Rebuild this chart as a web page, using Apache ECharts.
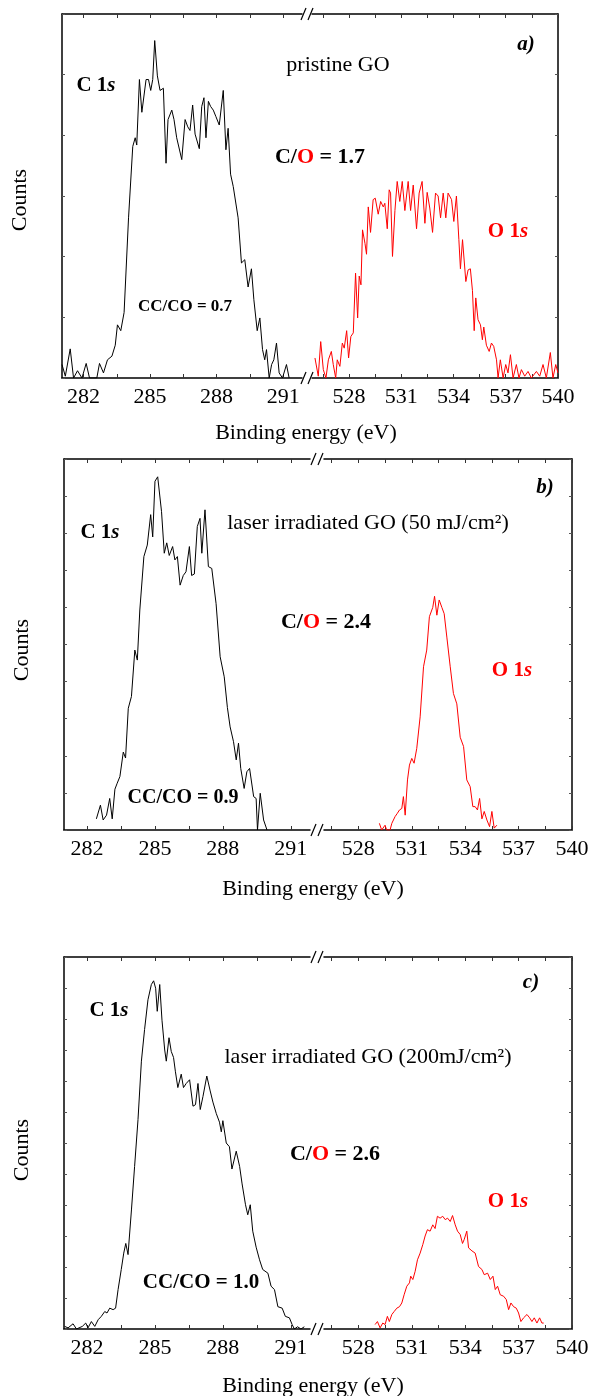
<!DOCTYPE html>
<html>
<head>
<meta charset="utf-8">
<script src="https://cdn.jsdelivr.net/npm/echarts@6/dist/echarts.min.js"></script>
<style>
	body{margin:0;background:#fff;}
	#chart{width:592px;height:1396px;}
</style>
</head>
<body>
<div id="chart"></div>
<script>
// tick positions of the broken x axis (binding energy, eV)
const lowTicks = [282, 283.5, 285, 286.5, 288, 289.5, 291];
const lowLabels = [282, 285, 288, 291];
const highTicks = [526.5, 528, 529.5, 531, 532.5, 534, 535.5, 537, 538.5, 540];
const highLabels = [528, 531, 534, 537, 540];

// a) pristine GO  [energy, counts (a.u.)]
const aC1s = [[281.03,3.7],[281.18,0.5],[281.40,8],[281.55,0],[281.73,2],[281.93,0],[282.12,4],[282.27,0],[282.60,0],[282.72,4],[282.90,1.4],[283.08,5],[283.28,6],[283.43,9],[283.53,14.6],[283.68,13],[283.83,18],[284.03,44],[284.22,63.6],[284.33,66],[284.40,64],[284.52,82],[284.63,73],[284.82,82],[284.93,82],[285.03,79],[285.12,82],[285.21,92.7],[285.33,83],[285.45,79],[285.60,79.6],[285.72,59],[285.81,71],[285.98,73.6],[286.08,71],[286.20,66],[286.43,60],[286.58,71],[286.70,69],[286.80,68],[286.92,75],[287.03,67],[287.22,63],[287.33,74.6],[287.43,77],[287.52,66],[287.63,76],[287.73,74.6],[287.85,73.6],[287.97,71.8],[288.12,69.5],[288.18,70],[288.30,79],[288.42,62.7],[288.52,68.6],[288.63,56],[288.75,52.6],[288.97,44],[289.12,31.6],[289.27,32.5],[289.42,25],[289.57,30],[289.68,21.5],[289.83,13],[289.95,16.5],[290.07,7.8],[290.17,5],[290.25,7.8],[290.37,0],[290.48,3.7],[290.58,5],[290.70,9.6],[290.82,1.4],[290.97,0],[291.15,3.7],[291.27,0]];
const aO1s = [[526.05,5.5],[526.24,0.5],[526.38,10],[526.53,2.3],[526.68,0],[526.82,5],[526.99,7.3],[527.10,3.7],[527.24,0],[527.33,5],[527.48,3.2],[527.62,9.6],[527.73,8.2],[527.87,13],[527.98,5.5],[528.11,11.4],[528.25,12.4],[528.38,28.8],[528.50,16.5],[528.59,28],[528.69,25.6],[528.78,40.7],[528.92,37],[529.01,34],[529.11,47],[529.24,40],[529.39,49],[529.51,49.4],[529.68,45],[529.82,48.5],[529.97,47],[530.06,48],[530.20,41],[530.31,51.7],[530.39,50.8],[530.50,33.4],[530.64,46],[530.77,54],[530.92,48.5],[531.06,54],[531.21,46],[531.40,54],[531.54,46],[531.69,53],[531.88,41],[532.03,50.8],[532.20,54],[532.36,42.5],[532.49,51],[532.64,46.7],[532.80,40],[532.97,50.8],[533.12,50],[533.26,44],[533.41,50.8],[533.56,44],[533.69,50.8],[533.89,49],[534.02,43],[534.17,50],[534.31,38],[534.40,30],[534.52,38],[534.71,26.5],[534.84,29.7],[534.97,30],[535.09,24],[535.19,13],[535.28,22],[535.41,16],[535.55,14.6],[535.66,10.5],[535.74,14],[535.89,9],[536.05,7.3],[536.18,9.6],[536.31,8.7],[536.47,5],[536.56,0],[536.69,5],[536.85,0],[537.00,3.7],[537.13,1.4],[537.27,6.4],[537.42,0],[537.61,3.7],[537.76,0],[537.90,2.3],[538.09,0.5],[538.28,1.8],[538.47,0],[538.76,1.8],[538.95,0.5],[539.14,3.7],[539.33,0],[539.56,7],[539.71,0],[539.87,3.7],[540.00,1.4]];

// b) laser irradiated GO, 50 mJ/cm2
const bC1s = [[282.41,3],[282.59,6.7],[282.71,2.7],[282.86,4],[283.00,8.5],[283.11,3],[283.23,11],[283.33,12.6],[283.45,14.4],[283.60,21],[283.70,19.4],[283.82,32.8],[283.96,36],[284.11,48.5],[284.22,45.8],[284.33,59.3],[284.51,73.7],[284.66,76.8],[284.81,85],[284.90,79],[285.00,94],[285.12,95.2],[285.29,85.8],[285.41,74.6],[285.52,77.4],[285.63,74],[285.78,76.4],[285.88,72.8],[285.99,73.7],[286.11,66],[286.25,68.6],[286.37,69.6],[286.52,76.4],[286.62,68.6],[286.74,69],[286.87,81.8],[286.99,84],[287.07,74.6],[287.21,86.3],[287.36,71],[287.51,70.5],[287.70,61],[287.88,46.7],[288.06,41.3],[288.20,33],[288.32,27.8],[288.47,23.8],[288.59,18.9],[288.69,23.4],[288.79,16.6],[288.94,11.2],[289.06,15.7],[289.18,16.6],[289.36,9],[289.47,8.5],[289.53,0],[289.65,9.9],[289.80,2.7],[289.95,0]];
const bO1s = [[529.18,1.8],[529.31,0],[529.50,1.3],[529.59,0],[529.78,0],[529.88,1.8],[530.06,3.6],[530.19,4.5],[530.31,5.4],[530.44,5.8],[530.53,9],[530.63,4],[530.76,13.5],[530.87,17.5],[531.00,19.3],[531.13,18],[531.28,22],[531.47,30.5],[531.66,44],[531.84,48.5],[531.99,57.5],[532.07,57],[532.18,60],[532.28,63],[532.41,57.9],[532.54,62],[532.69,60],[532.82,58.3],[532.97,52],[533.16,44],[533.34,36.8],[533.53,34],[533.72,25],[533.91,22.5],[534.09,13.5],[534.28,11.7],[534.43,6.3],[534.56,6.3],[534.69,5.4],[534.81,8.5],[534.94,3],[535.07,5],[535.22,2.7],[535.37,0.9],[535.50,5],[535.63,0.5],[535.78,1.3]];

// c) laser irradiated GO, 200 mJ/cm2
const cC1s = [[281.01,0.7],[281.16,0.3],[281.38,1.4],[281.53,0],[281.79,0.7],[281.94,1.6],[282.04,0.3],[282.19,2],[282.34,0.7],[282.49,2.5],[282.63,3.4],[282.78,4.7],[282.88,4.3],[283.00,5.6],[283.15,5.2],[283.26,5.6],[283.37,10.6],[283.51,16],[283.62,20.4],[283.71,23],[283.81,20],[283.96,32],[284.10,43.7],[284.25,56.3],[284.40,72],[284.54,80.5],[284.69,88.5],[284.84,92.6],[284.94,93.6],[285.03,91.6],[285.10,85.4],[285.21,92.6],[285.31,83],[285.43,75],[285.50,72],[285.62,78.3],[285.72,74.6],[285.82,73],[285.90,69.3],[286.01,64.9],[286.16,68.5],[286.26,64.9],[286.38,66],[286.53,67],[286.68,59.9],[286.79,60.3],[286.90,66],[287.00,59],[287.12,62.5],[287.29,68],[287.44,64],[287.56,61],[287.71,57.9],[287.85,55.6],[287.93,53],[288.00,56],[288.15,50],[288.29,49],[288.40,43],[288.59,47.8],[288.74,43.7],[288.85,39],[289.00,33.4],[289.10,30.7],[289.21,33.4],[289.32,26.3],[289.47,22],[289.62,18.6],[289.76,16],[289.99,15],[290.13,11.5],[290.28,10.6],[290.43,6],[290.62,5.6],[290.76,3.4],[290.94,3],[291.06,1.2],[291.16,0],[291.30,0.6],[291.45,0],[291.60,0.6]];
const cO1s = [[528.94,1.2],[529.07,2],[529.22,0.3],[529.37,1.6],[529.50,1.2],[529.63,3.4],[529.74,2],[529.88,3.9],[530.01,4.7],[530.16,5.6],[530.31,6],[530.44,7],[530.57,9.2],[530.72,11.5],[530.87,12.4],[530.94,14.2],[531.06,13.3],[531.19,15.5],[531.32,18.6],[531.47,20.4],[531.62,22.7],[531.75,25],[531.88,26.7],[532.03,26.3],[532.18,28],[532.31,27],[532.44,30.3],[532.59,29.8],[532.74,30.3],[532.88,29.4],[533.01,29.8],[533.16,28.9],[533.29,30.5],[533.44,28],[533.57,26.3],[533.72,25.4],[533.85,23],[533.94,24],[534.09,26.3],[534.19,21.8],[534.38,21],[534.56,20.4],[534.75,16.8],[534.94,16],[535.07,14.6],[535.26,15],[535.41,13.3],[535.56,14.2],[535.69,10.6],[535.82,11.5],[535.97,9.2],[536.16,8.8],[536.31,7.9],[536.44,5.2],[536.57,7],[536.72,6],[536.87,5.6],[537.00,4.3],[537.13,2],[537.28,3],[537.47,3.9],[537.62,3],[537.75,2],[537.88,3],[538.03,1.6],[538.18,3],[538.31,1.6],[538.41,1.6]];

const FONT = '"Liberation Serif", "Times New Roman", serif';

// panel frames (px) and axis ranges
const panels = [
	{top:14, bottom:378, left:62, right:558, gapL:302, gapR:312, lMin:281.03, lMax:291.85, rMin:525.88, rMax:540, ySplit:6, c1s:aC1s, o1s:aO1s},
	{top:459, bottom:830, left:64, right:572, gapL:310, gapR:324, lMin:280.98, lMax:291.85, rMin:526.07, rMax:540, ySplit:10, c1s:bC1s, o1s:bO1s},
	{top:957, bottom:1329, left:64, right:572, gapL:310, gapR:324, lMin:280.98, lMax:291.85, rMin:526.07, rMax:540, ySplit:12, c1s:cC1s, o1s:cO1s}
];

var grids = [], xAxes = [], yAxes = [], series = [], graphics = [];

function xAxisOf(gi, min, max, ticks, labels, pos){
	return {
		type:'value', gridIndex:gi, min:min, max:max, position:pos,
		axisLine:{show:true, onZero:false, lineStyle:{color:'#000', width:1.5}},
		axisTick:{show:true, inside:true, length:4, customValues:ticks, lineStyle:{color:'#333', width:1}},
		axisLabel:{show:pos == 'bottom', customValues:labels, margin:8, color:'#000', fontSize:22, fontFamily:FONT},
		splitLine:{show:false}
	};
}
function yAxisOf(gi, n, pos){
	return {
		type:'value', gridIndex:gi, min:0, max:100, interval:100 / n, position:pos,
		axisLine:{show:true, onZero:false, lineStyle:{color:'#000', width:1.5}},
		axisTick:{show:true, inside:true, length:3, lineStyle:{color:'#555', width:1}},
		axisLabel:{show:false},
		splitLine:{show:false}
	};
}

panels.forEach((p, i) => {
	var gl = i * 2, gr = i * 2 + 1;
	var h = p.bottom - p.top;
	grids.push({left:p.left, top:p.top, width:p.gapL - p.left, height:h});
	grids.push({left:p.gapR, top:p.top, width:p.right - p.gapR, height:h});
	// bottom + top axes for each half
	xAxes.push(xAxisOf(gl, p.lMin, p.lMax, lowTicks, lowLabels, 'bottom'));
	xAxes.push(xAxisOf(gl, p.lMin, p.lMax, lowTicks, lowLabels, 'top'));
	xAxes.push(xAxisOf(gr, p.rMin, p.rMax, highTicks, highLabels, 'bottom'));
	xAxes.push(xAxisOf(gr, p.rMin, p.rMax, highTicks, highLabels, 'top'));
	yAxes.push(yAxisOf(gl, p.ySplit, 'left'));
	yAxes.push(yAxisOf(gr, p.ySplit, 'right'));
	series.push({type:'line', xAxisIndex:i * 4, yAxisIndex:gl, data:p.c1s, showSymbol:false, clip:true,
		lineStyle:{color:'#000', width:1}});
	series.push({type:'line', xAxisIndex:i * 4 + 2, yAxisIndex:gr, data:p.o1s, showSymbol:false, clip:true,
		lineStyle:{color:'#ff0000', width:1}});
	// axis break marks "//"
	var bc = (p.gapL + p.gapR) / 2;
	[p.top, p.bottom].forEach(y => {
		graphics.push({type:'line', shape:{x1:bc - 6, y1:y + 6, x2:bc - 1, y2:y - 6}, style:{stroke:'#000', lineWidth:1.2}});
		graphics.push({type:'line', shape:{x1:bc + 1, y1:y + 6, x2:bc + 6, y2:y - 6}, style:{stroke:'#000', lineWidth:1.2}});
	});
});

function txt(x, y, text, rich, extra){
	var el = {type:'text', x:x, y:y, z:10, style:{text:text, rich:rich, align:'center', verticalAlign:'middle', fill:'#000'}};
	return Object.assign(el, extra || {});
}
function richOf(size){
	return {
		b:{font:'bold ' + size + 'px ' + FONT, fill:'#000'},
		bi:{font:'italic bold ' + size + 'px ' + FONT, fill:'#000'},
		r:{font:'bold ' + size + 'px ' + FONT, fill:'#ff0000'},
		ri:{font:'italic bold ' + size + 'px ' + FONT, fill:'#ff0000'},
		n:{font:size + 'px ' + FONT, fill:'#000'}
	};
}

// panel texts
const labelsA = [
	[96, 86, '{b|C 1}{bi|s}', 21], [338, 65, '{n|pristine GO}', 22], [320, 157, '{b|C/}{r|O}{b| = 1.7}', 22],
	[508, 232, '{r|O 1}{ri|s}', 21], [185, 307, '{b|CC/CO = 0.7}', 17], [526, 45, '{bi|a)}', 21]
];
const labelsB = [
	[100, 533, '{b|C 1}{bi|s}', 21], [368, 523, '{n|laser irradiated GO (50 mJ/cm²)}', 22], [326, 622, '{b|C/}{r|O}{b| = 2.4}', 22],
	[512, 671, '{r|O 1}{ri|s}', 21], [183, 798, '{b|CC/CO = 0.9}', 20], [545, 488, '{bi|b)}', 21]
];
const labelsC = [
	[109, 1011, '{b|C 1}{bi|s}', 21], [368, 1057, '{n|laser irradiated GO (200mJ/cm²)}', 22], [335, 1154, '{b|C/}{r|O}{b| = 2.6}', 22],
	[508, 1202, '{r|O 1}{ri|s}', 21], [201, 1283, '{b|CC/CO = 1.0}', 21], [531, 983, '{bi|c)}', 21]
];
labelsA.concat(labelsB, labelsC).forEach(t => graphics.push(txt(t[0], t[1], t[2], richOf(t[3]))));

// axis titles
[[20, 200, 306, 433], [22, 650, 313, 889], [22, 1150, 313, 1386]].forEach(a => {
	graphics.push(txt(a[0], a[1], '{n|Counts}', richOf(22), {rotation:Math.PI / 2}));
	graphics.push(txt(a[2], a[3], '{n|Binding energy (eV)}', richOf(22)));
});

var chart = echarts.init(document.getElementById('chart'));
chart.setOption({
	animation:false,
	backgroundColor:'#fff',
	grid:grids,
	xAxis:xAxes,
	yAxis:yAxes,
	series:series,
	graphic:{elements:graphics}
});
</script>
</body>
</html>
